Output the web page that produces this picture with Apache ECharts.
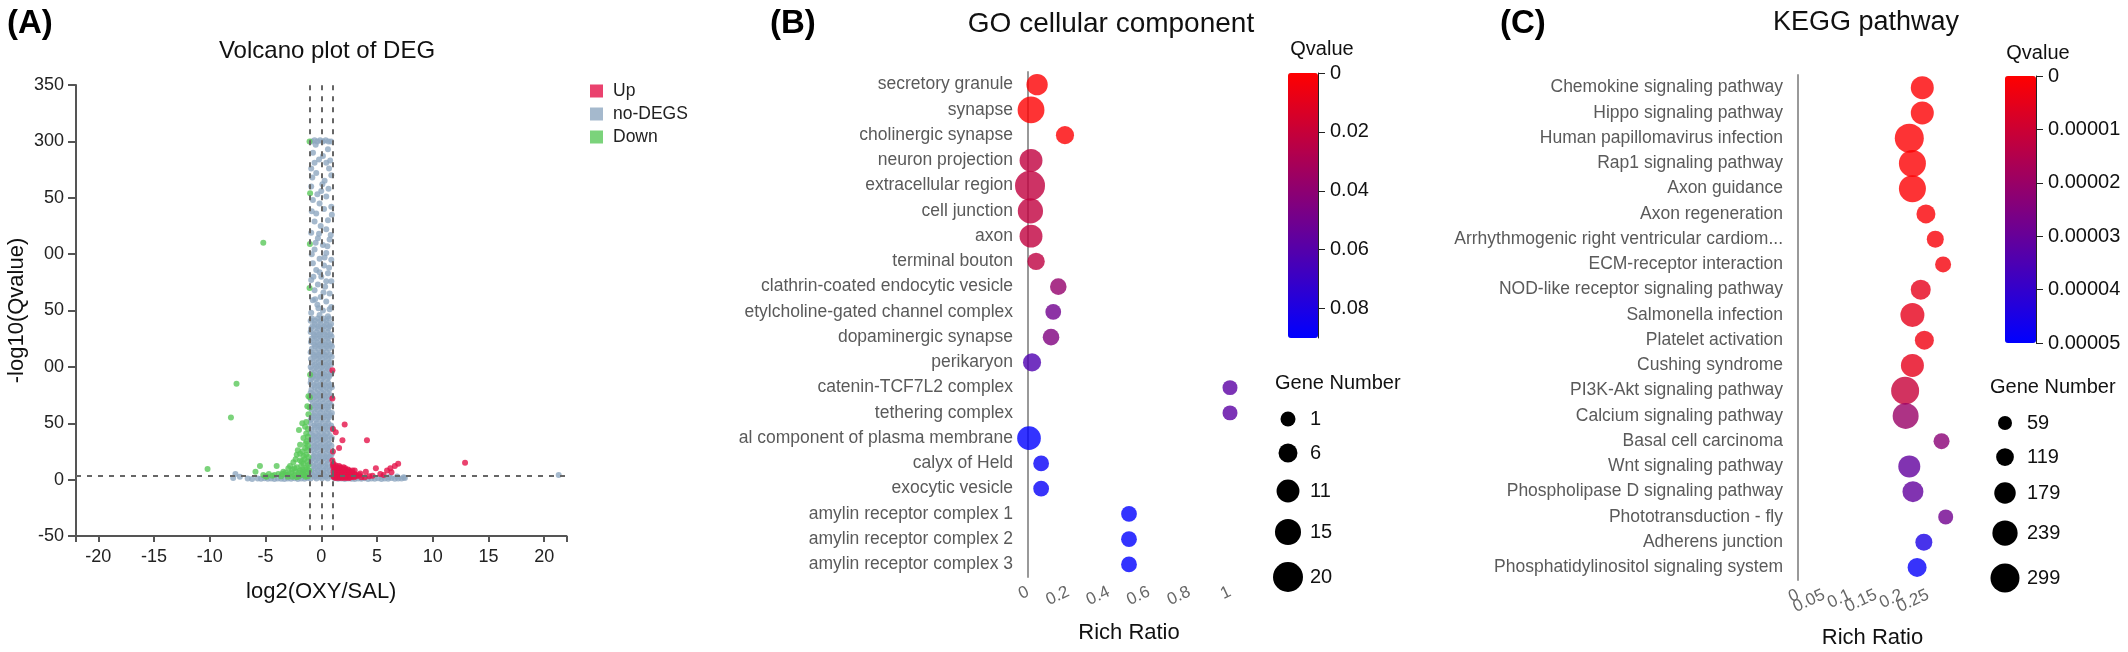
<!DOCTYPE html>
<html><head><meta charset="utf-8">
<script src="https://cdn.jsdelivr.net/npm/echarts@6/dist/echarts.min.js"></script>
<style>html,body{margin:0;padding:0;background:#fff}#c{width:2128px;height:652px}</style>
</head><body><div id="c"></div><script>
const FONT = '"Liberation Sans", Arial, Helvetica, sans-serif';

// ---------- Panel A: volcano ----------
const volcanoXLabels = [-20, -15, -10, -5, 0, 5, 10, 15, 20];
const volcanoXTicks = [-22, -20, -15, -10, -5, 0, 5, 10, 15, 20, 22];
const volcanoYTickLabels = ['-50', '0', '50', '00', '50', '00', '50', '300', '350'];
const foldThresholds = [-1, 0, 1];
const qThreshold = 3;

const noDegsPoints = [
  [-0.85,300],[-0.6,301],[-0.35,300],[-0.1,301],[0.15,300],[0.4,301],[0.65,300],[0.88,300],
  [-0.74,290],[-0.6,281],[-0.9,276],[0.15,287],[0.45,281],[0.7,276],[-0.45,272],[0.9,270],[0.3,265],[-0.9,260],
  [0,256],[0.45,251],[-0.75,248],[-0.15,245],[0.9,242],[-0.45,236],[0.95,235],[-0.6,229],[-0.05,225],[0.45,222],
  [-0.9,219],[-0.3,214],[0.75,213],[0.15,208],[-0.6,204],[0.45,201],[-0.15,196],[0.9,195],[-0.75,192],[0.25,190],
  [-0.45,186],[0.6,183],[0,180],[-0.9,177],[0.9,176],[-0.3,173],[0.35,171],[-0.6,168],[0.75,165],[-0.05,162],
  [-0.75,159],[0.45,158],[-0.35,155],[0.9,153],[0.15,150],[-0.9,148],[-0.15,146],[0.6,145],
  [-0.5,297],[0.6,293],[-0.2,284],[0.8,283],[-0.8,268],[0.1,262],[0.65,258],[-0.35,253],[0.25,240],[-0.85,238],
  [0.6,230],[-0.2,218],[0.85,217],[-0.5,210],[0.3,197],[-0.85,200],[0.7,188],[-0.15,184],[0.45,176],[-0.55,160],
  [0.2,166],[-0.25,152],[0.75,151],[0.55,207],[-0.7,180],
  [-0.82,143],[-0.31,143],[0.22,143],[0.71,143],[-0.58,138],[-0.07,138],[0.44,138],[0.88,138],
  [-0.9,134],[-0.36,134],[0.13,134],[0.63,134],[-0.68,129],[-0.19,129],[0.31,129],[0.82,129],
  [-0.86,125],[-0.42,125],[0.06,125],[0.57,125],[-0.63,120],[-0.13,120],[0.37,120],[0.86,120],
  [-0.84,116],[-0.29,116],[0.21,116],[0.69,116],[-0.71,111],[-0.22,111],[0.28,111],[0.78,111],
  [-0.92,107],[-0.4,107],[0.09,107],[0.61,107],[-0.57,102],[-0.09,102],[0.41,102],[0.87,102],
  [-0.83,98],[-0.33,98],[0.16,98],[0.66,98],[-0.69,93],[-0.18,93],[0.32,93],[0.81,93],
  [-0.91,89],[-0.44,89],[0.04,89],[0.54,89],[-0.64,84],[-0.14,84],[0.36,84],[0.84,84],
  [-0.87,80],[-0.3,80],[0.19,80],[0.72,80],[-0.72,75],[-0.21,75],[0.29,75],[0.79,75],
  [-0.93,71],[-0.39,71],[0.11,71],[0.62,71],[-0.59,66],[-0.11,66],[0.42,66],[0.9,66],
  [-0.85,62],[-0.34,62],[0.14,62],[0.64,62],[-0.7,57],[-0.2,57],[0.33,57],[0.83,57],
  [-0.94,53],[-0.46,53],[0.03,53],[0.53,53],[-0.62,48],[-0.16,48],[0.38,48],[0.88,48],
  [-0.88,44],[-0.28,44],[0.23,44],[0.73,44],[-0.73,39],[-0.23,39],[0.27,39],[0.77,39],
  [-0.95,35],[-0.41,35],[0.08,35],[0.59,35],[-0.61,30],[-0.1,30],[0.43,30],[0.91,30],
  [-0.86,26],[-0.37,26],[0.17,26],[0.67,26],[-0.67,21],[-0.17,21],[0.34,21],[0.85,21],
  [-0.95,17],[-0.47,17],[0.02,17],[0.52,17],[-0.66,12],[-0.15,12],[0.39,12],[0.92,12],
  [-0.89,8],[-0.32,8],[0.2,8],[0.74,8],[-0.74,4],[-0.24,4],[0.26,4],[0.8,4],
  [-0.96,1],[-0.43,1],[0.07,1],[0.58,1],
  [-0.95,141],[-0.55,141],[-0.05,141],[0.47,141],[-0.78,136],[-0.28,136],[0.25,136],[0.75,136],
  [-0.95,131],[-0.45,131],[0.06,131],[0.56,131],[-0.6,127],[-0.1,127],[0.45,127],[0.92,127],
  [-0.92,122],[-0.38,122],[0.12,122],[0.62,122],[-0.55,118],[-0.05,118],[0.47,118],[0.95,118],
  [-0.95,113],[-0.46,113],[0.05,113],[0.5,113],[-0.62,109],[-0.12,109],[0.42,109],[0.93,109],
  [-0.78,104],[-0.25,104],[0.26,104],[0.76,104],[-0.95,100],[-0.45,100],[0.05,100],[0.55,100],
  [-0.6,95],[-0.1,95],[0.42,95],[0.93,95],[-0.8,91],[-0.3,91],[0.2,91],[0.68,91],
  [-0.95,86],[-0.4,86],[0.12,86],[0.62,86],[-0.58,82],[-0.06,82],[0.45,82],[0.95,82],
  [-0.95,77],[-0.46,77],[0.05,77],[0.55,77],[-0.62,73],[-0.12,73],[0.38,73],[0.93,73],
  [-0.75,68],[-0.25,68],[0.25,68],[0.75,68],[-0.95,64],[-0.45,64],[0.05,64],[0.55,64],
  [-0.58,59],[-0.08,59],[0.45,59],[0.95,59],[-0.78,55],[-0.3,55],[0.2,55],[0.7,55],
  [-0.95,50],[-0.4,50],[0.12,50],[0.62,50],[-0.6,46],[-0.1,46],[0.42,46],[0.95,46],
  [-0.97,41],[-0.48,41],[0.03,41],[0.52,41],[-0.62,37],[-0.12,37],[0.38,37],[0.95,37],
  [-0.8,32],[-0.32,32],[0.2,32],[0.7,32],[-0.97,28],[-0.45,28],[0.05,28],[0.55,28],
  [-0.6,23],[-0.1,23],[0.45,23],[0.95,23],[-0.8,19],[-0.3,19],[0.2,19],[0.7,19],
  [-0.97,14],[-0.45,14],[0.05,14],[0.55,14],[-0.58,10],[-0.08,10],[0.45,10],[0.96,10],
  [-0.97,6],[-0.5,6],[0.0,6],[0.5,6],[-0.6,2.5],[-0.12,2.5],[0.4,2.5],[0.95,2.5],
  [-5.7,1],[-5.4,0.8],[-5.1,1.2],[-4.8,0.7],[-4.5,1],[-4.2,0.6],[-3.9,1.1],[-3.6,0.8],[-3.3,0.5],[-3.0,1],
  [-2.7,0.7],[-2.4,1.2],[-2.1,0.6],[-1.8,1],[-1.5,0.8],[-1.2,1.5],[1.2,1.3],[1.5,0.7],[1.8,1],[2.1,0.6],
  [2.4,1.1],[2.7,0.8],[3.0,0.5],[3.3,1],[3.6,0.7],[3.9,1.2],[4.2,0.6],[4.5,1],[4.8,0.8],[5.1,1.3],
  [5.4,0.6],[5.7,1],[6.0,0.8],[6.3,1.5],[6.6,0.7],[6.9,1.1],[7.2,0.9],[7.5,1.4],
  [-1.3,3],[-2,2.5],[1.3,3],[2.5,2.6],[3.5,2.2],[5.5,2.5],[6.1,2.3],[6.8,2.8],
  [-7.9,1.5],[-7.7,5],[-7.3,2.5],[-6.6,1],[-6.2,0.5],[7.4,2],[21.3,4]
];
const upPoints = [
  [1.0,97],[1.0,72],[2.1,49],[1.05,45],[1.3,42],[1.9,35],[4.1,35],[1.6,28],[1.0,17],[12.9,15],
  [6.9,14],[6.6,12],[6.2,10],[5.9,8],[4.9,10],[4.0,7],[5.3,5],[4.6,3.5],[5.6,4],[6.3,6.5],
  [1.05,25],[1.1,14],[3.5,5.5],[3.0,8],[2.8,4],[4.3,3],
  [1.1,11],[1.4,11],[1.7,11],[2.0,11],[1.2,9],[1.5,9],[1.8,9],[2.1,9],[2.4,9],
  [1.1,7],[1.4,7],[1.7,7],[2.0,7],[2.3,7],[2.6,7],[1.2,5],[1.5,5],[1.8,5],[2.1,5],[2.4,5],[2.7,5],[3.0,5],
  [1.1,3],[1.4,3],[1.7,3],[2.0,3],[2.3,3],[2.6,3],[2.9,3],[3.2,3],[1.3,1.5],[1.6,1.5],[1.9,1.5],[2.2,1.5],[2.5,1.5],
  [1.25,10],[1.55,10],[1.85,10],[2.15,10],[1.3,8],[1.6,8],[1.9,8],[2.2,8],[2.5,8],[2.8,8],
  [1.25,6],[1.55,6],[1.85,6],[2.15,6],[2.45,6],[2.75,6],[1.3,4],[1.6,4],[1.9,4],[2.2,4],[2.5,4],[3.1,4],[3.4,4],
  [1.15,2],[1.45,2],[1.75,2],[2.05,2],[2.35,2],[2.65,2],[2.95,2],[3.6,2],[3.9,2],[1.3,12.5],[1.6,12],[1.05,13]
];
const downPoints = [
  [-1.05,300],[-1.0,254],[-1.02,209],[-1.05,170],[-1.0,93],[-1.02,73],[-1.05,64],[-5.2,210],[-7.6,85],[-8.1,55],
  [-10.2,9.5],[-5.5,12],[-4.0,12],[-5.9,7],[-1.15,74],[-1.25,65],[-1.35,51],[-1.7,50],[-1.45,47],[-2.0,44],
  [-1.35,41],[-1.6,37],[-1.3,34],[-1.9,31],[-1.45,28],[-1.7,25],[-2.2,22],[-1.35,22],[-1.9,17],[-2.5,15.5],
  [-1.6,14],[-2.95,10],[-2.2,11],[-1.3,11],[-3.4,7],[-2.7,6],[-1.9,8],[-3.85,5],[-3.1,4],[-2.4,4],
  [-1.6,5],[-4.4,3.5],[-5.0,3],[-1.2,30],[-1.15,20],[-1.1,8],[-1.2,3],[-1.5,18],[-2.1,26],[-1.8,12],
  [-2.6,9],[-2.0,3],[-1.4,2.5],[-3.0,2.5],[-3.6,3],[-4.7,5],[-5.2,4],[-2.8,12],[-2.3,18],[-1.15,58],
  [-1.25,16],[-1.7,9],[-2.3,7],[-1.2,45],
  [-1.15,13],[-1.4,9],[-1.6,7],[-2.0,6],[-1.3,6],[-1.8,4],[-2.6,2.5],[-2.2,2],[-1.5,4],[-1.25,26],
  [-1.6,21],[-1.9,23],[-1.4,32],[-1.75,16],[-2.4,10],[-3.2,6],[-4.2,4],[-4.9,2.5],[-3.5,5],[-2.9,5],[-1.2,38]
];

// ---------- Panel B: GO cellular component ----------
const goTerms = ['secretory granule','synapse','cholinergic synapse','neuron projection','extracellular region',
  'cell junction','axon','terminal bouton','clathrin-coated endocytic vesicle','etylcholine-gated channel complex',
  'dopaminergic synapse','perikaryon','catenin-TCF7L2 complex','tethering complex','al component of plasma membrane',
  'calyx of Held','exocytic vesicle','amylin receptor complex 1','amylin receptor complex 2','amylin receptor complex 3'];
const goRatio = [0.045,0.015,0.183,0.015,0.01,0.012,0.015,0.04,0.15,0.125,0.114,0.02,1.0,1.0,0.005,0.065,0.065,0.5,0.5,0.5];
const goQ = [0.001,0.0005,0.001,0.022,0.022,0.022,0.022,0.023,0.038,0.05,0.045,0.062,0.058,0.058,0.09,0.088,0.088,0.09,0.09,0.09];
const goGenes = [9,16,5,11,20,14,11,4,3,2,3,5,1,1,12,2,2,2,2,2];
const goQTicks = [0, 0.02, 0.04, 0.06, 0.08];
const goGeneLegend = [1, 6, 11, 15, 20];

// ---------- Panel C: KEGG pathway ----------
const keggTerms = ['Chemokine signaling pathway','Hippo signaling pathway','Human papillomavirus infection',
  'Rap1 signaling pathway','Axon guidance','Axon regeneration','Arrhythmogenic right ventricular cardiom...',
  'ECM-receptor interaction','NOD-like receptor signaling pathway','Salmonella infection','Platelet activation',
  'Cushing syndrome','PI3K-Akt signaling pathway','Calcium signaling pathway','Basal cell carcinoma',
  'Wnt signaling pathway','Phospholipase D signaling pathway','Phototransduction - fly','Adherens junction',
  'Phosphatidylinositol signaling system'];
const keggRatio = [0.239,0.239,0.214,0.220,0.220,0.246,0.264,0.279,0.236,0.220,0.243,0.220,0.206,0.207,0.276,0.214,0.221,0.284,0.242,0.229];
const keggQ = [0.0000005,0.0000005,0.0000003,0.0000006,0.0000006,0.000001,0.0000015,0.000002,0.000005,0.000005,
  0.000003,0.000005,0.000011,0.00002,0.000023,0.000031,0.000031,0.000028,0.000045,0.000049];
const keggGenes = [203,203,299,267,267,139,107,91,155,219,139,203,283,251,91,187,171,75,107,139];
const keggXLabelsEven = [0, 0.1, 0.2];
const keggXLabelsOdd = [0.05, 0.15, 0.25];
const keggXTicks = [0, 0.05, 0.1, 0.15, 0.2, 0.25, 0.2865];
const keggQTicks = [0, 0.00001, 0.00002, 0.00003, 0.00004, 0.00005];
const keggGeneLegend = [59, 119, 179, 239, 299];

const sizeGO = n => 14.2 + 0.79 * n;
const sizeKEGG = n => 14 + (n - 59) / 16;

const chart = echarts.init(document.getElementById('c'), null, {renderer: 'canvas'});

function catY(idx, data) {
  return {
    gridIndex: idx, type: 'category', data: data, inverse: true, boundaryGap: true,
    axisLine: {lineStyle: {color: '#999', width: 2}},
    axisTick: {alignWithLabel: true, length: 8, lineStyle: {color: '#999', width: 2}},
    axisLabel: {color: '#5a5a5a', fontSize: 17.5, fontFamily: FONT, margin: 15, interval: 0},
    splitLine: {show: false}
  };
}

const texts = [];
function txt(t, x, y, size, opts) {
  opts = opts || {};
  texts.push({type: 'text', x: x, y: y, z: 100, silent: true,
    style: {text: t, font: (opts.bold ? 'bold ' : '') + size + 'px ' + FONT, fill: opts.fill || '#111',
      textAlign: opts.align || 'center', align: opts.align || 'center',
      textVerticalAlign: 'middle', verticalAlign: 'middle'}});
}
txt('(A)', 7, 24, 33, {bold: true, align: 'left', fill: '#000'});
txt('(B)', 770, 24, 33, {bold: true, align: 'left', fill: '#000'});
txt('(C)', 1500, 24, 33, {bold: true, align: 'left', fill: '#000'});
txt('Volcano plot of DEG', 327, 51, 24);
txt('GO cellular component', 1111, 24, 28);
txt('KEGG pathway', 1866, 23, 27);
txt('Qvalue', 1322, 49, 20);
txt('Qvalue', 2038, 53, 20);
txt('Gene Number', 1275, 383, 20, {align: 'left'});
txt('Gene Number', 1990, 387, 20, {align: 'left'});
const goLegendY = [419, 453, 491, 532, 577];
goGeneLegend.forEach((n, i) => {
  texts.push({type: 'circle', z: 100, silent: true, shape: {cx: 1288, cy: goLegendY[i], r: sizeGO(n) / 2}, style: {fill: '#000'}});
  txt(String(n), 1310, goLegendY[i], 20, {align: 'left'});
});
const keggLegendY = [423, 457, 493, 533, 578];
keggGeneLegend.forEach((n, i) => {
  texts.push({type: 'circle', z: 100, silent: true, shape: {cx: 2005, cy: keggLegendY[i], r: sizeKEGG(n) / 2}, style: {fill: '#000'}});
  txt(String(n), 2027, keggLegendY[i], 20, {align: 'left'});
});

const dash = {type: [5, 6], color: '#666', width: 2};
const keggLabelStyle = {rotate: 25, fontSize: 17, color: '#666', margin: 14, hideOverlap: false,
  showMinLabel: true, showMaxLabel: true};

const option = {
  backgroundColor: '#fff',
  animation: false,
  textStyle: {fontFamily: FONT},
  grid: [
    {left: 76, top: 85, width: 490.5, height: 451, outerBoundsMode: 'none', containLabel: false},
    {left: 1028, top: 72, width: 202, height: 505, outerBoundsMode: 'none', containLabel: false},
    {left: 1798, top: 75, width: 149, height: 505, outerBoundsMode: 'none', containLabel: false},
    {left: 1288, top: 73, width: 30, height: 265, outerBoundsMode: 'none', containLabel: false},
    {left: 2005, top: 76, width: 31, height: 267, outerBoundsMode: 'none', containLabel: false}
  ],
  xAxis: [
    {gridIndex: 0, type: 'value', min: -22, max: 22,
      name: 'log2(OXY/SAL)', nameLocation: 'middle', nameGap: 45,
      nameTextStyle: {fontSize: 22, color: '#111', fontFamily: FONT},
      axisLine: {onZero: false, lineStyle: {color: '#555', width: 2}},
      axisTick: {customValues: volcanoXTicks, length: 6, lineStyle: {color: '#555', width: 2}},
      axisLabel: {customValues: volcanoXLabels, fontSize: 18, color: '#222', margin: 12, hideOverlap: false,
        showMinLabel: true, showMaxLabel: true},
      splitLine: {show: false}},
    {gridIndex: 1, type: 'value', min: 0, max: 1, interval: 0.2,
      name: 'Rich Ratio', nameLocation: 'middle', nameGap: 45,
      nameTextStyle: {fontSize: 22, color: '#111', fontFamily: FONT},
      axisLine: {onZero: false, lineStyle: {color: '#999', width: 2}},
      axisTick: {length: 7, lineStyle: {color: '#999', width: 2}},
      axisLabel: {rotate: 25, fontSize: 17, color: '#666', margin: 14, hideOverlap: false,
        showMinLabel: true, showMaxLabel: true},
      splitLine: {show: false}},
    {gridIndex: 2, type: 'value', min: 0, max: 0.2865,
      name: 'Rich Ratio', nameLocation: 'middle', nameGap: 47,
      nameTextStyle: {fontSize: 22, color: '#111', fontFamily: FONT},
      axisLine: {onZero: false, lineStyle: {color: '#999', width: 2}},
      axisTick: {customValues: keggXTicks, length: 7, lineStyle: {color: '#999', width: 2}},
      axisLabel: Object.assign({customValues: keggXLabelsEven}, keggLabelStyle),
      splitLine: {show: false}},
    {gridIndex: 3, type: 'value', show: false},
    {gridIndex: 4, type: 'value', show: false},
    {gridIndex: 2, type: 'value', min: 0, max: 0.2865, position: 'bottom', offset: 0,
      axisLine: {show: false, onZero: false}, axisTick: {show: false},
      axisLabel: Object.assign({customValues: keggXLabelsOdd}, keggLabelStyle),
      splitLine: {show: false}}
  ],
  yAxis: [
    {gridIndex: 0, type: 'value', min: -50, max: 350, interval: 50,
      name: '-log10(Qvalue)', nameLocation: 'middle', nameGap: 48,
      nameTextStyle: {fontSize: 22, color: '#111', fontFamily: FONT},
      axisLine: {show: true, onZero: false, lineStyle: {color: '#555', width: 2}},
      axisTick: {show: true, length: 8, lineStyle: {color: '#555', width: 2}},
      axisLabel: {fontSize: 18, color: '#222', margin: 12,
        formatter: v => volcanoYTickLabels[Math.round((v + 50) / 50)]},
      splitLine: {show: false}},
    catY(1, goTerms),
    catY(2, keggTerms),
    {gridIndex: 3, type: 'value', min: 0, max: 0.09, inverse: true, position: 'right',
      axisLine: {show: true, onZero: false, lineStyle: {color: '#222', width: 1}},
      axisTick: {show: true, customValues: goQTicks, length: 7, lineStyle: {color: '#222', width: 1}},
      axisLabel: {customValues: goQTicks, fontSize: 20, color: '#111', margin: 12, showMinLabel: true,
        formatter: v => v === 0 ? '0' : v.toFixed(2)},
      splitLine: {show: false}},
    {gridIndex: 4, type: 'value', min: 0, max: 0.00005, inverse: true, position: 'right',
      axisLine: {show: true, onZero: false, lineStyle: {color: '#222', width: 1}},
      axisTick: {show: true, customValues: keggQTicks, length: 7, lineStyle: {color: '#222', width: 1}},
      axisLabel: {customValues: keggQTicks, fontSize: 20, color: '#111', margin: 12, showMinLabel: true, showMaxLabel: true,
        formatter: v => v === 0 ? '0' : v.toFixed(5)},
      splitLine: {show: false}}
  ],
  legend: {
    data: ['Up', 'no-DEGS', 'Down'], orient: 'vertical', left: 590, top: 82, padding: 0,
    itemWidth: 13, itemHeight: 13, itemGap: 5, icon: 'rect', selectedMode: false,
    textStyle: {fontSize: 17.5, color: '#222', fontFamily: FONT, padding: [0, 0, 0, 5]}
  },
  visualMap: [
    {type: 'continuous', seriesIndex: 3, dimension: 2, min: 0, max: 0.09, inverse: true,
      inRange: {color: ['#ff0000', '#0000ff']}, left: 1288, top: 73, itemWidth: 30, itemHeight: 265,
      calculable: false, padding: 0, orient: 'vertical', hoverLink: false, text: null, realtime: false},
    {type: 'continuous', seriesIndex: 4, dimension: 2, min: 0, max: 0.00005, inverse: true,
      inRange: {color: ['#ff0000', '#0000ff']}, left: 2005, top: 76, itemWidth: 31, itemHeight: 267,
      calculable: false, padding: 0, orient: 'vertical', hoverLink: false, text: null, realtime: false}
  ],
  graphic: {elements: texts},
  series: [
    {name: 'no-DEGS', type: 'scatter', xAxisIndex: 0, yAxisIndex: 0, data: noDegsPoints, symbolSize: 6,
      itemStyle: {color: '#8fa7c0'}, silent: true},
    {name: 'Up', type: 'scatter', xAxisIndex: 0, yAxisIndex: 0, data: upPoints, symbolSize: 6,
      itemStyle: {color: '#e5134a'}, silent: true},
    {name: 'Down', type: 'scatter', xAxisIndex: 0, yAxisIndex: 0, data: downPoints, symbolSize: 6,
      itemStyle: {color: '#5ac85a'}, silent: true,
      markLine: {silent: true, symbol: 'none', label: {show: false}, lineStyle: dash, z: 5,
        data: foldThresholds.map(fx => [{coord: [fx, -45]}, {coord: [fx, 350]}])
          .concat([[{coord: [-22, qThreshold]}, {coord: [22, qThreshold]}]])}},
    {name: 'GO', type: 'scatter', xAxisIndex: 1, yAxisIndex: 1, silent: true,
      data: goTerms.map((t, i) => [goRatio[i], t, goQ[i], goGenes[i]]),
      symbolSize: v => sizeGO(v[3])},
    {name: 'KEGG', type: 'scatter', xAxisIndex: 2, yAxisIndex: 2, silent: true,
      data: keggTerms.map((t, i) => [keggRatio[i], t, keggQ[i], keggGenes[i]]),
      symbolSize: v => sizeKEGG(v[3])}
  ]
};
chart.setOption(option);
</script></body></html>
